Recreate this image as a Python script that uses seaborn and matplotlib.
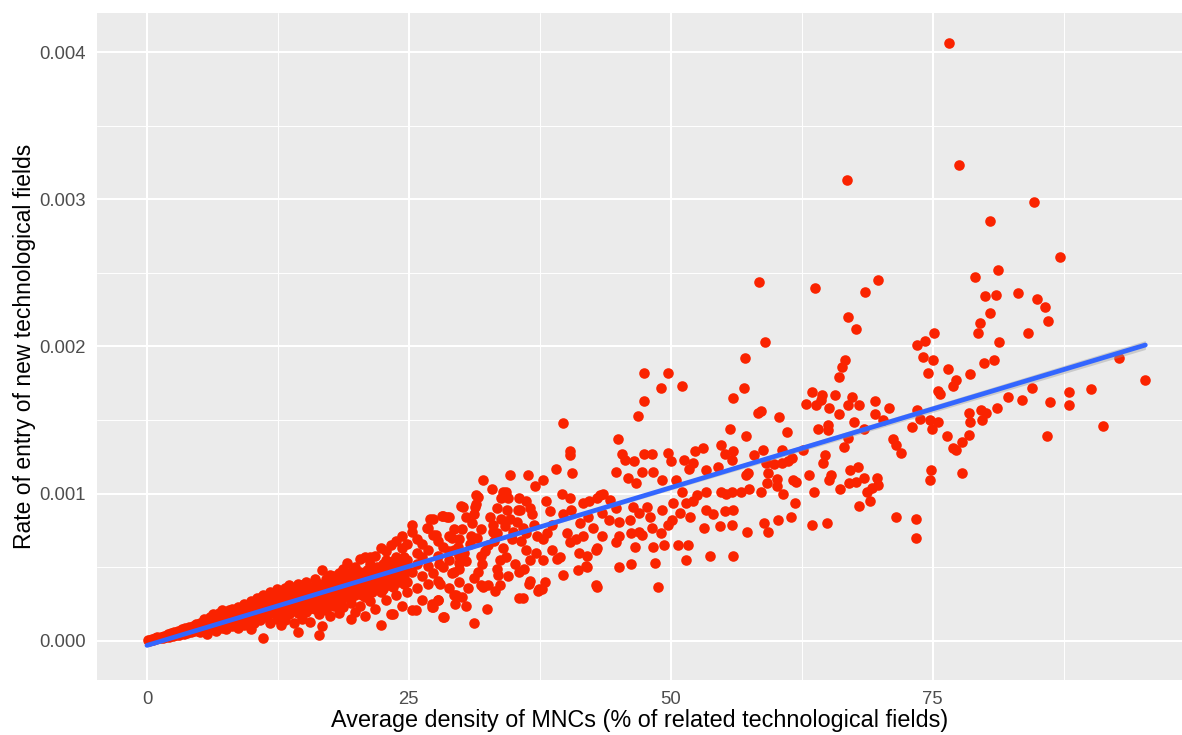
import pandas as pd
import matplotlib
matplotlib.use("Agg")
import matplotlib.pyplot as plt
import seaborn as sns

# values
# x = average density of MNCs (%), y = rate of entry of new technological fields

near_origin = [
    (0.1, 0.000005), (0.2, 0.000002), (0.3, 0.000008), (0.4, 0.000006), (0.5, 0.000012),
    (0.6, 0.000009), (0.8, 0.000018), (0.9, 0.000011), (1.0, 0.000024), (1.2, 0.000017),
    (1.3, 0.000029), (1.5, 0.000021), (1.6, 0.000036), (1.8, 0.000026), (2.0, 0.000045),
    (2.1, 0.000030), (2.3, 0.000052), (2.5, 0.000033), (2.6, 0.000060), (2.8, 0.000040),
    (3.0, 0.000070), (3.1, 0.000042), (3.3, 0.000078), (3.5, 0.000050), (3.6, 0.000088),
    (3.8, 0.000055), (4.0, 0.000095), (4.2, 0.000062), (4.4, 0.000105), (4.5, 0.000070),
    (4.7, 0.000112), (4.9, 0.000068),
]

low_band = {
    5.1: [0.00012, 0.00006], 5.4: [0.00009, 0.00015], 5.7: [0.00011, 0.00005],
    6.0: [0.00016, 0.00008, 0.00012], 6.3: [0.00010, 0.00018], 6.6: [0.00013, 0.00007],
    6.9: [0.00019, 0.00011, 0.00015], 7.2: [0.00009, 0.00021], 7.5: [0.00014, 0.00017, 0.00008],
    7.8: [0.00021, 0.00012], 8.1: [0.00016, 0.00010, 0.00022], 8.4: [0.00019, 0.00013],
    8.7: [0.00009, 0.00023, 0.00017], 9.0: [0.00021, 0.00014], 9.3: [0.00011, 0.00025, 0.00018],
    9.6: [0.00023, 0.00015], 9.9: [0.00008, 0.00020, 0.00027], 10.2: [0.00017, 0.00025, 0.00012],
    10.5: [0.00022, 0.00029], 10.8: [0.00014, 0.00027, 0.00019, 0.00029],
    11.1: [0.00002, 0.00024, 0.00031], 11.4: [0.00016, 0.00029, 0.00021],
    11.7: [0.00012, 0.00033, 0.00026], 12.0: [0.00019, 0.00031, 0.00023],
}

mid_band = {
    12.4: [0.00028, 0.00035, 0.00015, 0.00022], 12.8: [0.00033, 0.00025, 0.00011, 0.00019],
    13.2: [0.00030, 0.00036, 0.00021, 0.00014], 13.6: [0.00026, 0.00034, 0.00018, 0.00038],
    14.0: [0.00031, 0.00022, 0.00012, 0.00036], 14.4: [0.00028, 0.00039, 0.00019, 0.00006],
    14.8: [0.00033, 0.00024, 0.00038, 0.00015], 15.2: [0.00029, 0.00040, 0.00020, 0.00035],
    15.6: [0.00025, 0.00037, 0.00013, 0.00031], 16.0: [0.00034, 0.00042, 0.00022, 0.00028],
    16.4: [0.00039, 0.00018, 0.00030, 0.00004], 16.7: [0.00048, 0.00026, 0.00035, 0.00010],
    17.1: [0.00032, 0.00042, 0.00021, 0.00037], 17.5: [0.00045, 0.00028, 0.00017, 0.00034],
    17.9: [0.00039, 0.00024, 0.00044, 0.00031], 18.3: [0.00036, 0.00046, 0.00019, 0.00027],
    18.7: [0.00041, 0.00033, 0.00049, 0.00023], 19.1: [0.00030, 0.00044, 0.00038, 0.00053],
    19.5: [0.00047, 0.00035, 0.00026, 0.00015], 19.9: [0.00041, 0.00031, 0.00050, 0.00020],
}

wide_band = {
    20.3: [0.00056, 0.00038, 0.00024, 0.00047], 20.8: [0.00044, 0.00057, 0.00030, 0.00017],
    21.3: [0.00052, 0.00036, 0.00057, 0.00027], 21.8: [0.00058, 0.00041, 0.00022, 0.00048],
    22.3: [0.00063, 0.00033, 0.00050, 0.00011], 22.8: [0.00061, 0.00044, 0.00028, 0.00055],
    23.3: [0.00065, 0.00038, 0.00052, 0.00018], 23.8: [0.00057, 0.00068, 0.00031, 0.00046],
    24.3: [0.00063, 0.00049, 0.00024, 0.00071], 24.8: [0.00055, 0.00040, 0.00066, 0.00033],
    25.3: [0.00079, 0.00074, 0.00047, 0.00021], 25.8: [0.00060, 0.00036, 0.00052, 0.00069],
    26.3: [0.00066, 0.00044, 0.00028, 0.00057], 26.8: [0.00077, 0.00051, 0.00062, 0.00039],
    27.3: [0.00083, 0.00072, 0.00046, 0.00023], 27.8: [0.00058, 0.00028, 0.00068, 0.00041],
    28.3: [0.00085, 0.00064, 0.00050, 0.00016], 28.8: [0.00084, 0.00055, 0.00036, 0.00071],
    29.3: [0.00031, 0.00062, 0.00047, 0.00076], 29.8: [0.00069, 0.00053, 0.00040, 0.00058],
}

# the saturated core of the band, where points sit on top of each other
core_half = {
    1.5: [0.000030], 2.5: [0.000048], 3.5: [0.000068, 0.000060], 4.5: [0.000088, 0.000080],
    5.5: [0.00010, 0.00008, 0.00012], 6.5: [0.00012, 0.00010, 0.00014],
    7.5: [0.00013, 0.00011, 0.00015, 0.00019], 8.5: [0.00015, 0.00012, 0.00018, 0.00020],
    9.5: [0.00017, 0.00013, 0.00020, 0.00022], 10.5: [0.00019, 0.00015, 0.00024, 0.00026],
    11.5: [0.00020, 0.00017, 0.00025, 0.00028],
    12.5: [0.00024, 0.00018, 0.00027, 0.00030, 0.00021],
    13.5: [0.00025, 0.00020, 0.00029, 0.00032, 0.00023],
    14.5: [0.00027, 0.00021, 0.00031, 0.00034, 0.00024],
    15.5: [0.00029, 0.00022, 0.00033, 0.00036, 0.00026],
    16.5: [0.00031, 0.00024, 0.00035, 0.00038, 0.00028],
    17.5: [0.00033, 0.00025, 0.00037, 0.00040, 0.00029],
    18.5: [0.00035, 0.00027, 0.00039, 0.00042, 0.00031],
    19.5: [0.00037, 0.00029, 0.00041, 0.00044, 0.00033],
    20.5: [0.00039, 0.00031, 0.00043, 0.00046, 0.00035],
    21.5: [0.00041, 0.00033, 0.00045, 0.00049, 0.00037],
    22.5: [0.00043, 0.00035, 0.00047, 0.00052, 0.00039],
    23.5: [0.00045, 0.00037, 0.00049, 0.00054, 0.00041],
    24.5: [0.00047, 0.00039, 0.00051, 0.00057, 0.00043],
}

core_whole = {
    6.0: [0.00011, 0.00013], 7.0: [0.00012, 0.00016], 8.0: [0.00014, 0.00018, 0.00016],
    9.0: [0.00016, 0.00019, 0.00017], 10.0: [0.00018, 0.00022, 0.00020],
    11.0: [0.00019, 0.00023, 0.00021], 12.0: [0.00022, 0.00026, 0.00020, 0.00028],
    13.0: [0.00024, 0.00028, 0.00022, 0.00030], 14.0: [0.00026, 0.00030, 0.00023, 0.00033],
    15.0: [0.00028, 0.00032, 0.00025, 0.00035], 16.0: [0.00030, 0.00034, 0.00026, 0.00037],
    17.0: [0.00032, 0.00036, 0.00028, 0.00039], 18.0: [0.00034, 0.00038, 0.00030, 0.00041],
    19.0: [0.00036, 0.00040, 0.00031, 0.00043], 20.0: [0.00038, 0.00042, 0.00033, 0.00045],
    21.0: [0.00040, 0.00044, 0.00035, 0.00048], 22.0: [0.00042, 0.00046, 0.00037, 0.00050],
    23.0: [0.00044, 0.00048, 0.00038, 0.00053], 24.0: [0.00046, 0.00050, 0.00040, 0.00055],
}

spread = [
    (36.4, 0.00113), (34.7, 0.00113), (32.1, 0.00109), (34.0, 0.00101), (32.9, 0.00103),
    (37.0, 0.00105), (31.4, 0.00099), (31.4, 0.00093), (30.0, 0.00092), (28.2, 0.00085),
    (31.2, 0.00086), (33.4, 0.00090), (35.5, 0.00097), (36.6, 0.00090), (35.4, 0.00089),
    (34.7, 0.00083), (36.2, 0.00073), (34.8, 0.00069), (33.4, 0.00073), (31.9, 0.00076),
    (30.1, 0.00076), (29.1, 0.00070), (32.6, 0.00065), (36.2, 0.00062), (36.6, 0.00055),
    (33.7, 0.00055), (31.9, 0.00058), (30.5, 0.00054), (27.9, 0.00052), (29.8, 0.00049),
    (33.4, 0.00049), (35.5, 0.00047), (36.6, 0.00041), (34.5, 0.00044), (32.6, 0.00038),
    (31.2, 0.00043), (29.1, 0.00046), (28.0, 0.00039), (30.1, 0.00030), (31.9, 0.00038),
    (33.7, 0.00038), (35.5, 0.00029), (37.4, 0.00035), (32.5, 0.00022), (31.2, 0.00012),
    (28.4, 0.00016), (29.4, 0.00025), (27.2, 0.00025), (37.1, 0.00060),
    (34.3, 0.00101), (33.8, 0.00097), (34.5, 0.00097), (31.6, 0.00098), (31.3, 0.00091),
    (30.2, 0.00091), (34.4, 0.00089), (35.6, 0.00089), (36.2, 0.00095), (36.8, 0.00086),
    (30.5, 0.00084), (31.0, 0.00080), (28.6, 0.00084), (27.0, 0.00083), (26.7, 0.00077),
    (27.6, 0.00072), (33.0, 0.00079), (34.2, 0.00078), (35.9, 0.00077), (33.0, 0.00074),
    (30.5, 0.00024), (35.9, 0.00029), (37.3, 0.00034), (36.5, 0.00039), (33.2, 0.00034),
    (32.1, 0.00037), (25.7, 0.00021), (27.2, 0.00023), (27.8, 0.00028), (29.5, 0.00031),
    (30.6, 0.00036), (23.5, 0.00018),
    (30.8, 0.00066), (31.5, 0.00070), (32.3, 0.00061), (33.1, 0.00068), (34.0, 0.00063),
    (34.9, 0.00074), (35.7, 0.00068), (36.9, 0.00079), (30.3, 0.00060), (32.0, 0.00052),
    (34.3, 0.00057), (35.1, 0.00052), (33.5, 0.00045), (31.6, 0.00047), (36.0, 0.00049),
    (37.2, 0.00071), (29.7, 0.00064), (28.8, 0.00061), (30.9, 0.00071), (33.8, 0.00083),
    (35.3, 0.00081), (32.7, 0.00084),
]

middle = [
    (37.8, 0.00109), (39.6, 0.00100), (40.4, 0.00097), (41.6, 0.00094), (43.5, 0.00100),
    (38.5, 0.00088), (39.7, 0.00086), (41.3, 0.00080), (42.6, 0.00077), (45.1, 0.00081),
    (46.1, 0.00082), (47.0, 0.00087), (46.4, 0.00091), (47.7, 0.00091), (49.2, 0.00089),
    (51.5, 0.00094), (50.2, 0.00094), (53.4, 0.00101), (54.8, 0.00101), (55.8, 0.00101),
    (57.5, 0.00103), (57.2, 0.00113), (55.2, 0.00088), (55.9, 0.00089), (54.7, 0.00078),
    (55.8, 0.00079), (53.2, 0.00077), (57.3, 0.00074), (50.7, 0.00065), (51.6, 0.00065),
    (51.5, 0.00055), (53.7, 0.00058), (55.9, 0.00058), (49.7, 0.00079), (50.1, 0.00082),
    (49.1, 0.00073), (48.3, 0.00064), (49.4, 0.00065), (48.5, 0.00053), (48.8, 0.00037),
    (45.1, 0.00071), (44.8, 0.00067), (46.2, 0.00073), (47.0, 0.00074), (46.6, 0.00064),
    (45.1, 0.00050), (46.2, 0.00052), (43.0, 0.00063), (43.4, 0.00071), (42.0, 0.00058),
    (41.1, 0.00048), (42.0, 0.00050), (43.0, 0.00037), (39.7, 0.00045), (38.0, 0.00040),
    (37.7, 0.00035), (39.4, 0.00057), (38.7, 0.00062), (41.0, 0.00069), (41.6, 0.00071),
    (40.4, 0.00067), (37.8, 0.00069), (37.8, 0.00055), (48.0, 0.00084), (47.3, 0.00072),
    (48.2, 0.00077), (45.9, 0.00111), (46.7, 0.00107), (47.3, 0.00115), (48.3, 0.00115),
    (49.2, 0.00109), (50.5, 0.00109), (44.8, 0.00115), (40.6, 0.00114), (43.2, 0.00099),
    (44.8, 0.00090), (51.1, 0.00101), (52.1, 0.00095), (52.5, 0.00099), (50.9, 0.00087),
    (51.8, 0.00084), (53.4, 0.00089), (54.0, 0.00086), (55.3, 0.00100), (56.7, 0.00101),
    (38.1, 0.00095), (42.2, 0.00095), (43.0, 0.00097), (44.2, 0.00096), (40.5, 0.00089),
    (38.7, 0.00079), (42.1, 0.00084), (43.4, 0.00087), (44.1, 0.00082), (40.1, 0.00073),
    (38.2, 0.00073), (41.2, 0.00060), (42.9, 0.00062), (39.1, 0.00056), (41.9, 0.00051),
    (42.9, 0.00038),
    (39.7, 0.00148), (40.4, 0.00129), (40.4, 0.00126), (39.0, 0.00117), (47.4, 0.00182),
    (49.7, 0.00182), (49.1, 0.00172), (51.1, 0.00173), (47.4, 0.00163), (46.9, 0.00153),
    (45.0, 0.00137), (45.3, 0.00127), (45.6, 0.00123), (46.5, 0.00122), (47.4, 0.00127),
    (48.2, 0.00127), (49.7, 0.00128), (50.0, 0.00122), (51.3, 0.00123), (51.7, 0.00117),
    (52.3, 0.00129), (53.1, 0.00131), (54.8, 0.00133), (55.2, 0.00127), (55.9, 0.00129),
    (55.8, 0.00123), (55.7, 0.00144), (57.2, 0.00139), (58.3, 0.00155), (57.9, 0.00126),
    (55.9, 0.00165), (57.0, 0.00172), (57.1, 0.00192), (52.1, 0.00121), (53.4, 0.00116),
    (54.5, 0.00118), (57.4, 0.00114),
]

tail = [
    (58.4, 0.00244), (63.8, 0.00240), (68.5, 0.00237), (69.8, 0.00245), (66.9, 0.00220),
    (67.7, 0.00212), (59.0, 0.00203), (73.5, 0.00201), (74.3, 0.00204), (75.1, 0.00209),
    (74.1, 0.00193), (75.0, 0.00191), (74.6, 0.00182), (76.5, 0.00185), (77.2, 0.00177),
    (76.9, 0.00173), (78.6, 0.00181), (66.6, 0.00191), (66.3, 0.00186), (66.1, 0.00179),
    (63.5, 0.00169), (64.4, 0.00167), (62.9, 0.00161), (63.9, 0.00160), (64.3, 0.00164),
    (65.7, 0.00167), (67.3, 0.00166), (66.9, 0.00160), (68.0, 0.00160), (65.1, 0.00158),
    (66.1, 0.00154), (67.5, 0.00149), (69.5, 0.00163), (69.5, 0.00154), (70.8, 0.00158),
    (70.3, 0.00150), (64.1, 0.00144), (65.0, 0.00147), (65.0, 0.00143), (68.4, 0.00144),
    (66.9, 0.00138), (66.5, 0.00132), (60.3, 0.00152), (61.1, 0.00142), (58.6, 0.00156),
    (58.8, 0.00130), (60.6, 0.00130), (62.6, 0.00130), (64.7, 0.00126), (71.2, 0.00137),
    (71.5, 0.00133), (72.0, 0.00128), (73.5, 0.00157), (73.8, 0.00151), (74.7, 0.00150),
    (74.9, 0.00144), (75.5, 0.00149), (73.0, 0.00145), (75.5, 0.00170), (75.7, 0.00168),
    (76.4, 0.00139), (76.9, 0.00131), (77.2, 0.00130), (77.8, 0.00135), (78.5, 0.00140),
    (78.5, 0.00155), (78.6, 0.00149),
    (59.1, 0.00121), (59.9, 0.00120), (60.6, 0.00121), (61.2, 0.00122), (61.6, 0.00124),
    (64.5, 0.00121), (59.3, 0.00114), (60.1, 0.00110), (59.2, 0.00107), (58.6, 0.00101),
    (60.1, 0.00105), (60.7, 0.00100), (61.7, 0.00109), (62.0, 0.00108), (63.2, 0.00113),
    (63.7, 0.00101), (61.9, 0.00094), (65.1, 0.00109), (65.3, 0.00113), (66.2, 0.00103),
    (67.1, 0.00116), (67.9, 0.00118), (67.0, 0.00107), (67.7, 0.00108), (68.4, 0.00111),
    (69.7, 0.00111), (69.8, 0.00106), (69.2, 0.00104), (68.7, 0.00101), (68.0, 0.00092),
    (69.0, 0.00095), (60.2, 0.00082), (61.5, 0.00084), (58.9, 0.00080), (59.3, 0.00074),
    (63.5, 0.00079), (64.9, 0.00080), (71.5, 0.00084), (73.4, 0.00083), (73.4, 0.00070),
    (74.8, 0.00116), (74.7, 0.00109), (77.8, 0.00114),
    (84.7, 0.00298), (80.5, 0.00285), (87.2, 0.00261), (81.2, 0.00252), (79.0, 0.00247),
    (80.0, 0.00234), (81.0, 0.00235), (83.1, 0.00236), (85.0, 0.00232), (85.7, 0.00227),
    (86.0, 0.00217), (80.5, 0.00223), (79.5, 0.00216), (79.3, 0.00209), (81.3, 0.00203),
    (84.1, 0.00209), (79.9, 0.00189), (80.9, 0.00191), (92.8, 0.00192), (95.3, 0.00177),
    (84.5, 0.00172), (82.2, 0.00166), (83.5, 0.00164), (86.2, 0.00162), (88.0, 0.00169),
    (88.0, 0.00160), (90.1, 0.00171), (81.1, 0.00158), (79.6, 0.00157), (80.1, 0.00155),
    (79.7, 0.00150), (85.9, 0.00139), (91.3, 0.00146),
    (76.6, 0.00406), (77.5, 0.00323), (66.8, 0.00313),
]

# linear fit as drawn in the reference (ends of the blue line and its grey band)
fit_density = [0.0, 20.0, 95.3]
fit_rate = [-0.000030, 0.000400, 0.002010]
fit_halfwidth = [0.000010, 0.000006, 0.000030]

x_ticks = [0, 25, 50, 75]
x_minor = [12.5, 37.5, 62.5, 87.5]
y_ticks = [0.000, 0.001, 0.002, 0.003, 0.004]
y_minor = [0.0005, 0.0015, 0.0025, 0.0035]
y_tick_labels = ["0.000", "0.001", "0.002", "0.003", "0.004"]

x_title = "Average density of MNCs (% of related technological fields)"
y_title = "Rate of entry of new technological fields"

# flatten everything into one table
rows = list(near_origin)
for band in (low_band, mid_band, wide_band, core_half, core_whole):
    for xv, ys in band.items():
        rows += [(xv, yv) for yv in ys]
rows += spread + middle + tail
df = pd.DataFrame(rows, columns=["density", "entry_rate"])

fit = pd.DataFrame({"density": fit_density, "entry_rate": fit_rate, "hw": fit_halfwidth})

sns.set_style("darkgrid", {
    "axes.facecolor": "#EBEBEB",
    "grid.color": "white",
    "axes.edgecolor": "#EBEBEB",
})
plt.rcParams["font.family"] = ["Liberation Sans", "DejaVu Sans"]

fig, ax = plt.subplots(figsize=(11.82, 7.35), dpi=100)
fig.subplots_adjust(left=97 / 1182, right=1.0, bottom=55 / 735, top=1 - 13 / 735)

sns.scatterplot(data=df, x="density", y="entry_rate", ax=ax,
                color="#FA2300", s=58, linewidth=0, alpha=1, zorder=3)

# grey confidence band + blue fitted line
ax.fill_between(fit["density"], fit["entry_rate"] - fit["hw"], fit["entry_rate"] + fit["hw"],
                color="#999999", alpha=0.4, lw=0, zorder=4)
sns.lineplot(data=fit, x="density", y="entry_rate", ax=ax,
             color="#3366FF", lw=3.4, zorder=5)

ax.set_xlim(-4.77, 98.8)
ax.set_ylim(-0.000265, 0.004265)
ax.set_xticks(x_ticks)
ax.set_xticklabels([str(t) for t in x_ticks])
ax.set_xticks(x_minor, minor=True)
ax.set_yticks(y_ticks)
ax.set_yticklabels(y_tick_labels)
ax.set_yticks(y_minor, minor=True)

ax.grid(which="major", color="white", lw=1.5)
ax.grid(which="minor", color="white", lw=0.7)
ax.set_axisbelow(True)
for sp in ax.spines.values():
    sp.set_visible(False)

ax.tick_params(axis="both", which="major", length=3, width=0.8, color="#333333",
               labelcolor="#4D4D4D", labelsize=13.3, pad=5)
ax.tick_params(axis="both", which="minor", length=0)

ax.set_xlabel(x_title, fontsize=16.8, color="black", labelpad=1)
ax.set_ylabel(y_title, fontsize=16.5, color="black", labelpad=2.5)

plt.savefig("out.png", dpi=100)
